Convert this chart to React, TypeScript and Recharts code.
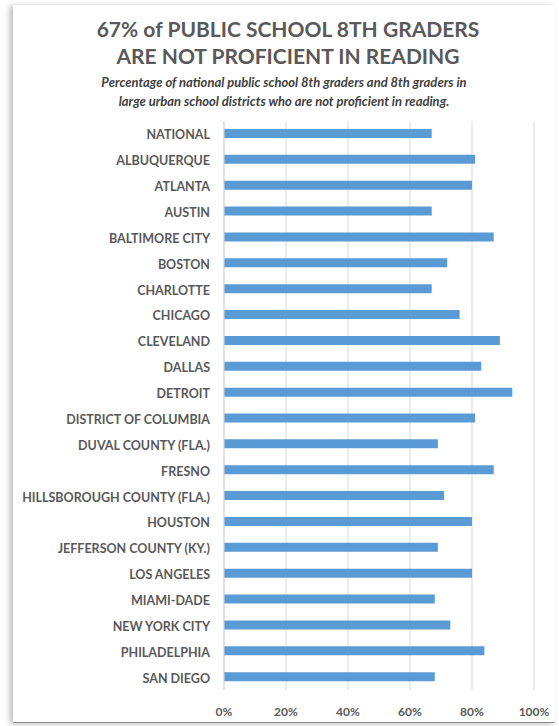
import React from "react";
import { BarChart, Bar, XAxis, YAxis, CartesianGrid } from "recharts";

const categories = [
  "NATIONAL",
  "ALBUQUERQUE",
  "ATLANTA",
  "AUSTIN",
  "BALTIMORE CITY",
  "BOSTON",
  "CHARLOTTE",
  "CHICAGO",
  "CLEVELAND",
  "DALLAS",
  "DETROIT",
  "DISTRICT OF COLUMBIA",
  "DUVAL COUNTY (FLA.)",
  "FRESNO",
  "HILLSBOROUGH COUNTY (FLA.)",
  "HOUSTON",
  "JEFFERSON COUNTY (KY.)",
  "LOS ANGELES",
  "MIAMI-DADE",
  "NEW YORK CITY",
  "PHILADELPHIA",
  "SAN DIEGO",
];

const notProficient = [67, 81, 80, 67, 87, 72, 67, 76, 89, 83, 93, 81, 69, 87, 71, 80, 69, 80, 68, 73, 84, 68];

const xTicks = [0, 20, 40, 60, 80, 100];

const data = categories.map((name, i) => ({ name, value: notProficient[i] }));

const FONT = "Lato, 'Open Sans', sans-serif";

const CategoryTick = (props: any) => {
  const { x, y, payload } = props;
  return (
    <text
      x={x}
      y={y + 1}
      textAnchor="end"
      dominantBaseline="central"
      fill="#595959"
      fontSize={12.5}
      fontWeight={700}
      fontFamily={FONT}
    >
      {payload.value}
    </text>
  );
};

export default function App() {
  return (
    <div style={{ position: "absolute", left: 0, top: 0, width: 559, height: 726, background: "#fff", fontFamily: FONT }}>
      <div
        style={{
          position: "absolute",
          left: 13,
          top: 5,
          width: 542,
          height: 717,
          background: "#fff",
          boxShadow: "-3px 1px 6px rgba(0,0,0,0.28)",
          borderBottom: "1px solid #8a8a8a",
        }}
      />
      <div
        style={{
          position: "absolute",
          left: 17,
          width: 542,
          top: 15,
          textAlign: "center",
          color: "#595959",
          fontSize: 21,
          fontWeight: 700,
          lineHeight: "27px",
          fontFamily: FONT,
        }}
      >
        <div>67% of PUBLIC SCHOOL 8TH GRADERS</div>
        <div>ARE NOT PROFICIENT IN READING</div>
      </div>
      <div
        style={{
          position: "absolute",
          left: 13,
          width: 542,
          top: 73,
          textAlign: "center",
          color: "#404040",
          fontSize: 13,
          fontStyle: "italic",
          fontWeight: 700,
          lineHeight: "19px",
          fontFamily: FONT,
        }}
      >
        <div>Percentage of national public school 8th graders and 8th graders in</div>
        <div>large urban school districts who are not proficient in reading.</div>
      </div>
      <div style={{ position: "absolute", left: 0, top: 0 }}>
        <BarChart
          width={559}
          height={726}
          data={data}
          layout="vertical"
          margin={{ top: 121, right: 25, bottom: 6, left: 0 }}
        >
          <CartesianGrid horizontal={false} stroke="#d9d9d9" />
          <XAxis
            type="number"
            domain={[0, 100]}
            ticks={xTicks}
            tickFormatter={(v: number) => `${v}%`}
            axisLine={false}
            tickLine={false}
            tickSize={6}
            tickMargin={11}
            height={30}
            interval={0}
            tick={{ fill: "#595959", fontSize: 12, fontWeight: 700, fontFamily: FONT }}
          />
          <YAxis
            type="category"
            dataKey="name"
            width={224}
            axisLine={{ stroke: "#d9d9d9" }}
            tickLine={false}
            tickSize={6}
            tickMargin={8}
            interval={0}
            tick={<CategoryTick />}
          />
          <Bar dataKey="value" fill="#5b9bd5" barSize={9} isAnimationActive={false} />
        </BarChart>
      </div>
    </div>
  );
}
